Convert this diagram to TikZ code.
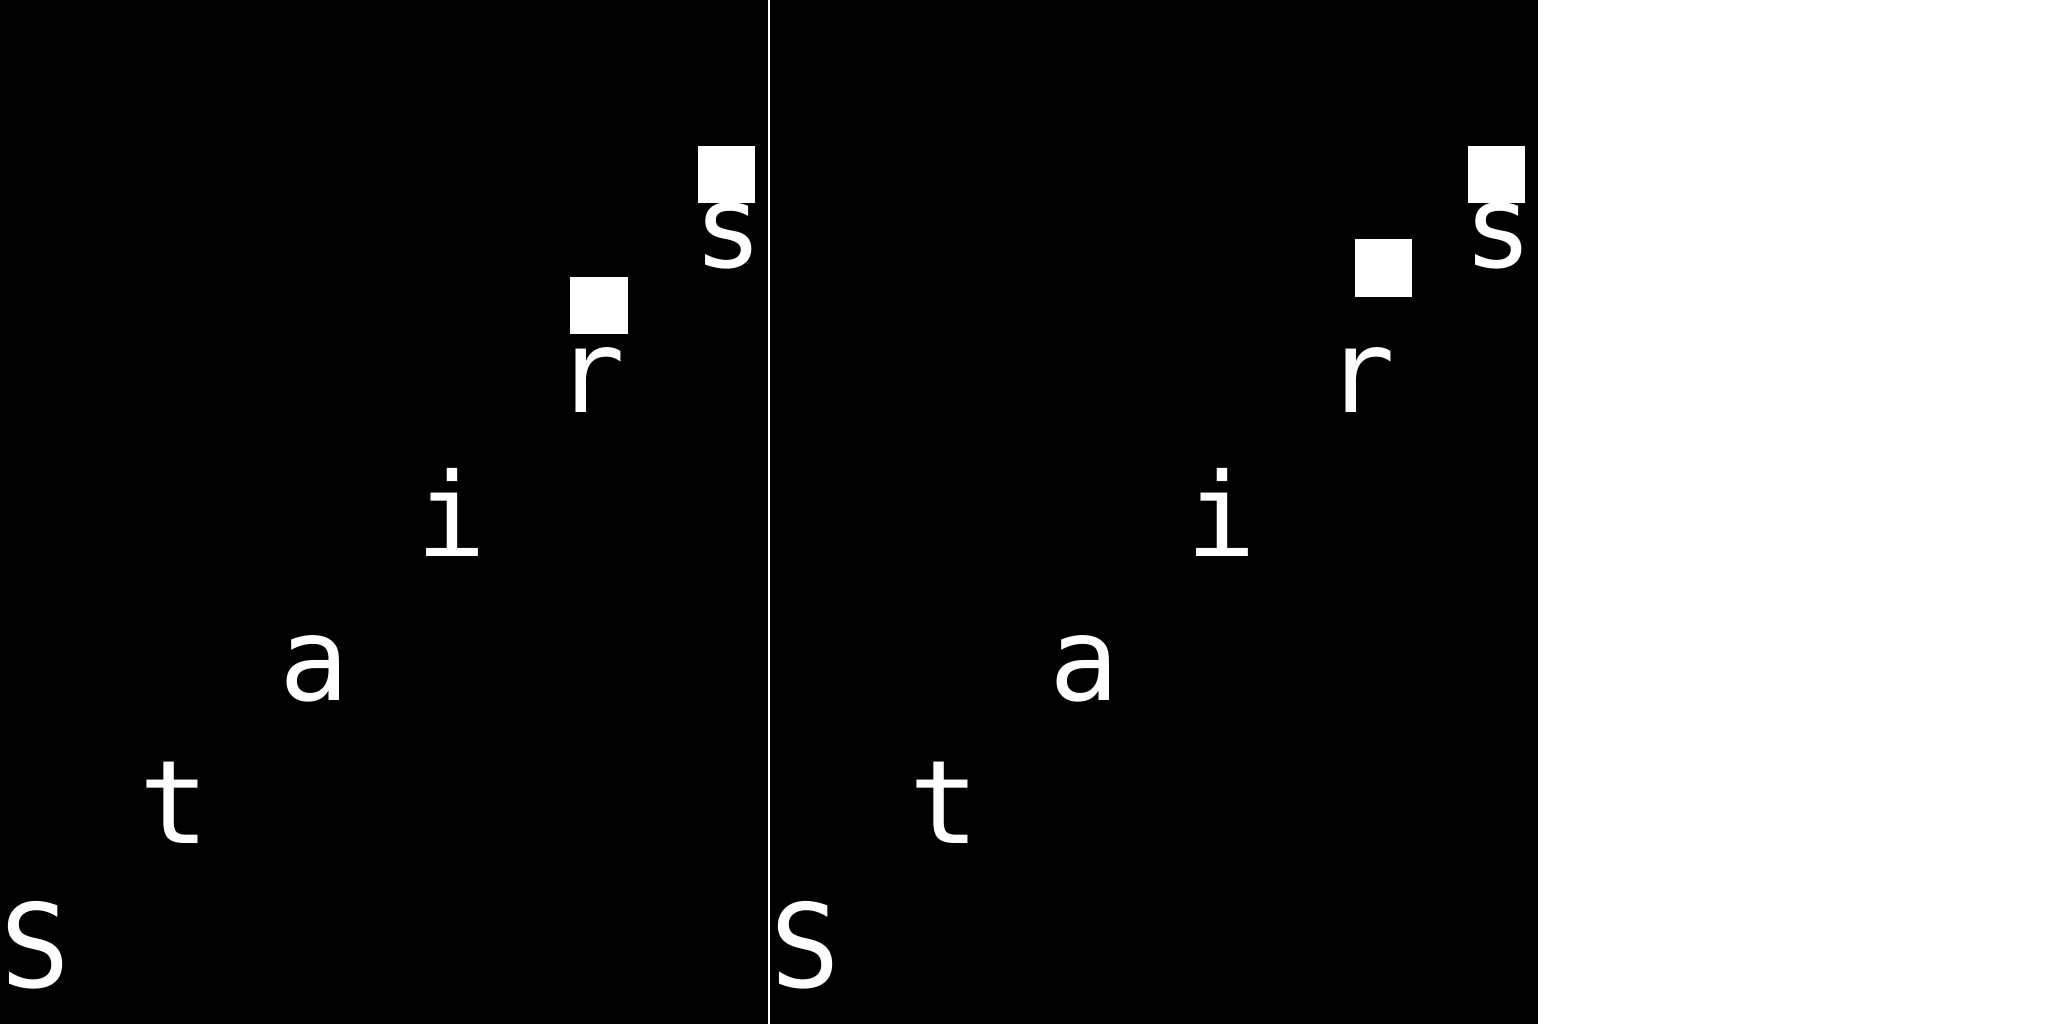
\documentclass[tikz,border=0pt]{standalone}
\usepackage{fontspec}
\newfontfamily\stairfont{DejaVu Sans Mono}
\begin{document}
\begin{tikzpicture}[x=1pt,y=-1pt,
  letter/.style={anchor=base,inner sep=0pt,outer sep=0pt,text=white,font=\stairfont\fontsize{116}{139}\selectfont},
  panel/.style={fill=black,draw=none},
  block/.style={fill=white,draw=none}]
\useasboundingbox[fill=white] (0,0) rectangle (2048,1024);
% panels
\path[panel] (0,0) rectangle (768,1024);
\path[panel] (770,0) rectangle (1538,1024);
% left panel
\node[letter] (l1) at (35,987) {S};
\node[letter] (l2) at (174,843) {t};
\node[letter] (l3) at (314,700) {a};
\node[letter] (l4) at (451,556) {i};
\node[letter] (l5) at (590,412) {r};
\node[letter] (l6) at (728,268) {s};
\path[block] (570,277) rectangle (628,334);
\path[block] (698,146) rectangle (755,203);
% right panel
\node[letter] (m1) at (805,987) {S};
\node[letter] (m2) at (944,843) {t};
\node[letter] (m3) at (1084,700) {a};
\node[letter] (m4) at (1221,556) {i};
\node[letter] (m5) at (1360,412) {r};
\node[letter] (m6) at (1498,268) {s};
\path[block] (1355,239) rectangle (1412,297);
\path[block] (1468,146) rectangle (1525,203);
\end{tikzpicture}
\end{document}
